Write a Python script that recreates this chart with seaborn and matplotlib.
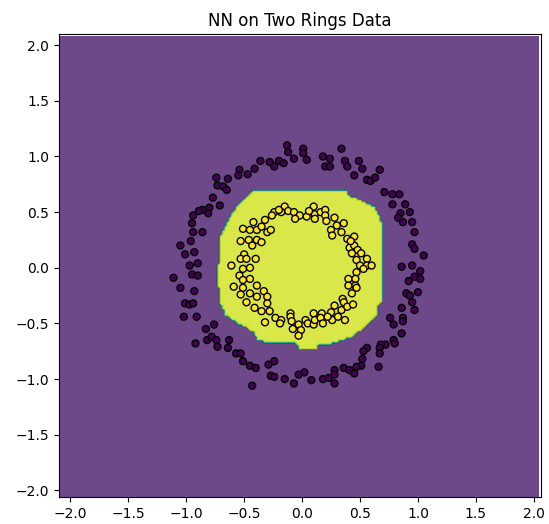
import numpy as np
import matplotlib
matplotlib.use("Agg")
import matplotlib.pyplot as plt
from matplotlib.path import Path
import seaborn as sns
import pandas as pd

# Outer ring (class 0)
outer_x = [-0.36, -0.41, -0.54, -0.55, -0.47, -0.64, -0.74, -0.73, -0.68, -0.65, -0.77, -0.71, -0.80, -0.81,
           -0.86, -0.89, -0.94, -0.95,
           -0.13, -0.12, 0.01, 0.01, 0.34, -0.07, 0.04, 0.18, 0.24, 0.20, 0.24, 0.37, 0.39,
           -0.28, -0.20, -0.24, -0.16,
           0.49, 0.52, 0.45, 0.67, 0.56, 0.59, 0.63, 0.71, 0.78, 0.84, 0.78, 0.89, 0.93, 0.85, 0.83, 0.87, 0.95,
           -0.94, -0.86, -0.96, -1.05, -0.93, -1.01, -0.90, -0.97, -1.11, -0.95, -0.90, -1.05, -0.93, -1.01,
           -0.97, -0.94,
           0.97, 0.95, 0.97, 1.05, 0.86, 0.95, 1.02, 0.97, 0.92, 1.02, 0.90, 0.93, 1.00, 0.95, 0.86, 0.97,
           -1.02, -0.91, -0.83, -0.76, -0.92, -0.82, -0.78, -0.74, -0.73, -0.63, -0.64, -0.57, -0.53, -0.51,
           -0.45, -0.43,
           -0.40, -0.29, -0.24, -0.27, -0.24, -0.15, -0.07, -0.03, 0.02, 0.08, 0.18, 0.23, 0.28, 0.28, 0.28,
           0.36, 0.41,
           0.76, 0.87, 0.87, 0.79, 0.86, 0.79, 0.80, 0.72, 0.68, 0.67, 0.67, 0.56, 0.53, 0.52, 0.51, 0.47,
           0.45, 0.66]
outer_y = [0.96, 0.89, 0.88, 0.83, 0.84, 0.80, 0.81, 0.74, 0.73, 0.70, 0.63, 0.56, 0.54, 0.49,
           0.52, 0.51, 0.47, 0.40,
           1.10, 1.04, 1.07, 1.03, 1.07, 0.98, 0.97, 1.00, 0.98, 0.91, 0.91, 0.96, 0.91,
           0.95, 0.96, 0.91, 0.94,
           0.96, 0.89, 0.83, 0.88, 0.79, 0.78, 0.81, 0.68, 0.66, 0.66, 0.57, 0.57, 0.50, 0.49, 0.45, 0.41, 0.41,
           0.32, 0.32, 0.24, 0.20, 0.14, 0.12, 0.04, 0.02, -0.09, -0.06, -0.07, -0.18, -0.21, -0.32,
           -0.33, -0.32,
           0.32, 0.21, 0.17, 0.11, 0.01, 0.02, -0.03, -0.08, -0.12, -0.10, -0.23, -0.25, -0.22, -0.31, -0.36, -0.38,
           -0.44, -0.44, -0.55, -0.51, -0.68, -0.65, -0.62, -0.65, -0.71, -0.65, -0.72, -0.77, -0.77, -0.84,
           -0.88, -1.06,
           -0.90, -0.87, -0.84, -0.97, -0.98, -1.00, -1.04, -0.96, -0.94, -1.01, -1.00, -0.99, -0.92, -0.96, -1.04,
           -0.90, -0.92,
           -0.45, -0.45, -0.48, -0.51, -0.59, -0.65, -0.68, -0.69, -0.69, -0.72, -0.77, -0.72, -0.75, -0.82, -0.88,
           -0.89, -0.95, -0.89]

# Inner ring (class 1)
inner_x = [-0.42, 0.10, -0.15, -0.12, -0.18, -0.24, -0.07, -0.02, 0.04, 0.11, 0.16, 0.20, 0.20, 0.28, 0.11,
           -0.32, -0.26, 0.36, 0.21, -0.06,
           -0.53, -0.46, -0.43, -0.50, -0.53, -0.48, -0.61, -0.51, -0.45, -0.54, -0.45, -0.51, -0.59, -0.51,
           -0.53, -0.45, -0.48,
           -0.39, -0.35, -0.30, -0.27, -0.39, -0.35, -0.40, 0.25, 0.26, 0.34, 0.39, 0.41, 0.40, 0.40, -0.39,
           -0.33, -0.39, -0.30, -0.30, -0.28, -0.35, -0.10, 0.10, 0.17, 0.25, 0.34, 0.35, 0.36, 0.28, 0.39,
           0.45, 0.45, 0.48, 0.43, 0.51, 0.56, 0.47, 0.50, 0.56, 0.60, 0.53, 0.47, 0.46, 0.46, 0.47, 0.43, 0.44,
           -0.32, -0.23, -0.18, -0.19, -0.10, -0.09, -0.08, -0.03, -0.01, -0.03, 0.03, 0.05, 0.10, 0.11, 0.16,
           0.18, 0.26, 0.31, 0.37,
           -0.51, -0.45, -0.20, 0.06, 0.30, 0.42, -0.41, 0.22]
inner_y = [0.41, 0.55, 0.55, 0.51, 0.50, 0.50, 0.50, 0.47, 0.46, 0.48, 0.50, 0.52, 0.47, 0.45, 0.44,
           0.43, 0.47, 0.40, 0.42, 0.44,
           0.24, 0.25, 0.20, 0.12, 0.08, 0.08, 0.02, -0.01, 0.00, -0.07, -0.10, -0.11, -0.17, -0.18,
           -0.24, -0.23, -0.31,
           0.34, 0.37, 0.32, 0.34, 0.25, 0.23, 0.08, 0.34, 0.29, 0.32, 0.26, 0.18, -0.10, -0.16, -0.16,
           -0.21, -0.26, -0.26, -0.32, -0.39, -0.39, -0.41, -0.41, -0.41, -0.40, -0.38, -0.28, -0.31, -0.34, -0.35,
           0.28, 0.20, 0.16, 0.13, 0.13, 0.08, 0.07, 0.02, 0.02, 0.02, -0.01, -0.04, -0.10, -0.16, -0.18, -0.23, -0.33,
           -0.49, -0.45, -0.47, -0.50, -0.44, -0.48, -0.55, -0.51, -0.56, -0.61, -0.47, -0.50, -0.51, -0.47, -0.45,
           -0.50, -0.47, -0.44, -0.47,
           0.35, 0.34, 0.52, 0.51, 0.38, 0.24, -0.36, -0.44]

# Decision boundary of the predicted class-1 region
boundary_x = [-0.41, 0.37, 0.41, 0.52, 0.63, 0.66, 0.69, 0.69, 0.65, 0.65, 0.54, 0.41, 0.33, 0.24, 0.14, 0.14,
              -0.02, -0.05, -0.28, -0.38, -0.41, -0.53, -0.66, -0.70, -0.70, -0.73, -0.73, -0.70, -0.70, -0.65,
              -0.58, -0.49]
boundary_y = [0.70, 0.70, 0.64, 0.60, 0.54, 0.47, 0.38, -0.29, -0.34, -0.42, -0.53, -0.63, -0.65, -0.68, -0.68,
              -0.72, -0.72, -0.67, -0.67, -0.65, -0.58, -0.51, -0.42, -0.33, -0.20, -0.16, 0.02, 0.07, 0.29, 0.38,
              0.52, 0.63]

title = "NN on Two Rings Data"
ticks = [-2.0, -1.5, -1.0, -0.5, 0.0, 0.5, 1.0, 1.5, 2.0]

fig = plt.figure(figsize=(5.49, 5.24), dpi=100)
ax = fig.add_axes([0.107, 0.0515, 0.985 - 0.107, 0.935 - 0.0515])

h = 0.02
xs = np.arange(-2.1, 2.06, h)
ys = np.arange(-2.06, 2.1, h)
xx, yy = np.meshgrid(xs, ys)
region = Path(np.column_stack([boundary_x, boundary_y]))
Z = region.contains_points(np.column_stack([xx.ravel(), yy.ravel()])).astype(float).reshape(xx.shape)
ax.contourf(xx, yy, Z, alpha=0.8, cmap="viridis")

df = pd.DataFrame({
    "x": outer_x + inner_x,
    "y": outer_y + inner_y,
    "label": [0] * len(outer_x) + [1] * len(inner_x),
})
vir = plt.get_cmap("viridis")
sns.scatterplot(data=df, x="x", y="y", hue="label", palette={0: vir(0.0), 1: vir(1.0)},
                edgecolor="k", linewidth=1, s=25, legend=False, ax=ax)

ax.set_xlim(-2.1, 2.06)
ax.set_ylim(-2.06, 2.1)
ax.set_xticks(ticks)
ax.set_yticks(ticks)
ax.set_xlabel("")
ax.set_ylabel("")
ax.set_title(title)

fig.savefig("out.png", dpi=100)
